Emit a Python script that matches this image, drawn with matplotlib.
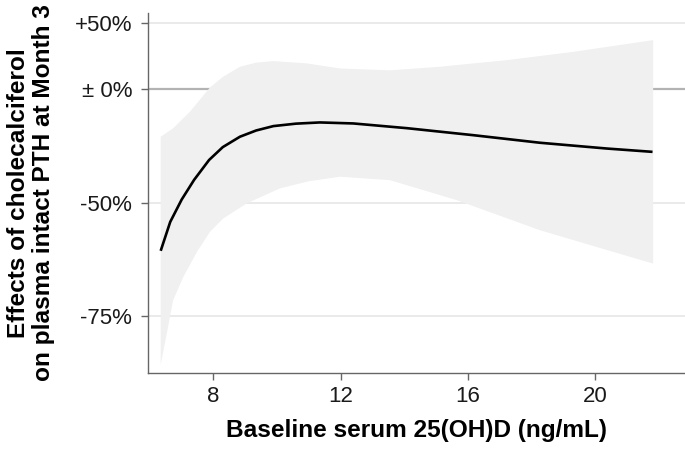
import matplotlib
matplotlib.use("Agg")
import matplotlib.pyplot as plt
import numpy as np

plt.rcParams['font.family'] = ['Liberation Sans', 'DejaVu Sans']

# Estimated effect (%) curve
x_fit = [6.35, 6.65, 7.01, 7.40, 7.87, 8.30, 8.84, 9.35, 9.89, 10.60, 11.35, 12.40, 14.08, 16.17, 18.26, 20.36, 21.80]
eff_fit = [-62.7, -55.5, -49.0, -42.5, -35.1, -29.8, -25.2, -22.3, -20.2, -19.0, -18.4, -18.9, -21.2, -24.5, -27.9, -30.4, -31.8]

# Upper confidence band (%)
x_up = [6.35, 6.74, 7.27, 7.90, 8.31, 8.84, 9.35, 9.89, 10.93, 11.98, 13.55, 15.12, 17.22, 19.31, 21.82]
eff_up = [-25.2, -21.3, -12.9, 1.0, 7.8, 14.6, 17.5, 18.6, 17.0, 13.4, 12.1, 14.6, 19.3, 25.5, 34.8]

# Lower confidence band (%)
x_lo = [6.35, 6.54, 6.74, 7.06, 7.50, 7.90, 8.31, 9.05, 10.10, 11.00, 11.98, 13.55, 15.65, 18.26, 20.36, 21.82]
eff_lo = [-81.4, -77.5, -72.4, -68.2, -62.8, -58.1, -54.6, -50.2, -45.4, -43.0, -41.4, -42.6, -49.2, -57.7, -62.5, -65.5]

xticks = [8, 12, 16, 20]
yticks_pct = [50, 0, -50, -75]
ytick_labels = ['+50%', '± 0%', '-50%', '-75%']

fig = plt.figure(figsize=(6.85, 4.5), dpi=100)
ax = fig.add_axes([0.216, 0.171, 0.784, 0.80])
ax.set_yscale('log')

to_ratio = lambda v: 1 + np.asarray(v) / 100.0

poly_x = list(x_up) + list(x_lo[::-1])
poly_y = list(to_ratio(eff_up)) + list(to_ratio(eff_lo[::-1]))
ax.fill(poly_x, poly_y, color='#f0f0f0', lw=0, zorder=1)

for t in yticks_pct:
    if t == 0:
        ax.axhline(to_ratio(t), color='#b3b3b3', lw=1.6, zorder=0.5)
    else:
        ax.axhline(to_ratio(t), color='#e6e6e6', lw=1.2, zorder=0.5)

ax.plot(x_fit, to_ratio(eff_fit), color='black', lw=1.9, zorder=3,
        solid_joinstyle='round', solid_capstyle='butt')

ax.set_xlim(5.95, 22.82)
ax.set_ylim(0.177, 1.59)
ax.set_xticks(xticks)
ax.set_xticklabels([str(v) for v in xticks])
ax.set_yticks(to_ratio(yticks_pct))
ax.set_yticklabels(ytick_labels)
ax.yaxis.set_minor_locator(matplotlib.ticker.NullLocator())

for s in ['top', 'right']:
    ax.spines[s].set_visible(False)
for s in ['left', 'bottom']:
    ax.spines[s].set_color('#666666')
    ax.spines[s].set_linewidth(1.0)
ax.tick_params(axis='both', colors='#666666', length=4.75, width=1.0, labelsize=16,
               labelcolor='#1a1a1a')
ax.tick_params(axis='y', pad=6.5)
ax.tick_params(axis='x', pad=4.5)

ax.set_xlabel('Baseline serum 25(OH)D (ng/mL)', fontsize=17.6, fontweight='bold', labelpad=9)
ax.set_ylabel('Effects of cholecalciferol\non plasma intact PTH at Month 3', fontsize=17.6,
              fontweight='bold', linespacing=1.12)
ax.yaxis.set_label_coords(-0.173, 0.5)

fig.savefig('out.png', dpi=100)
